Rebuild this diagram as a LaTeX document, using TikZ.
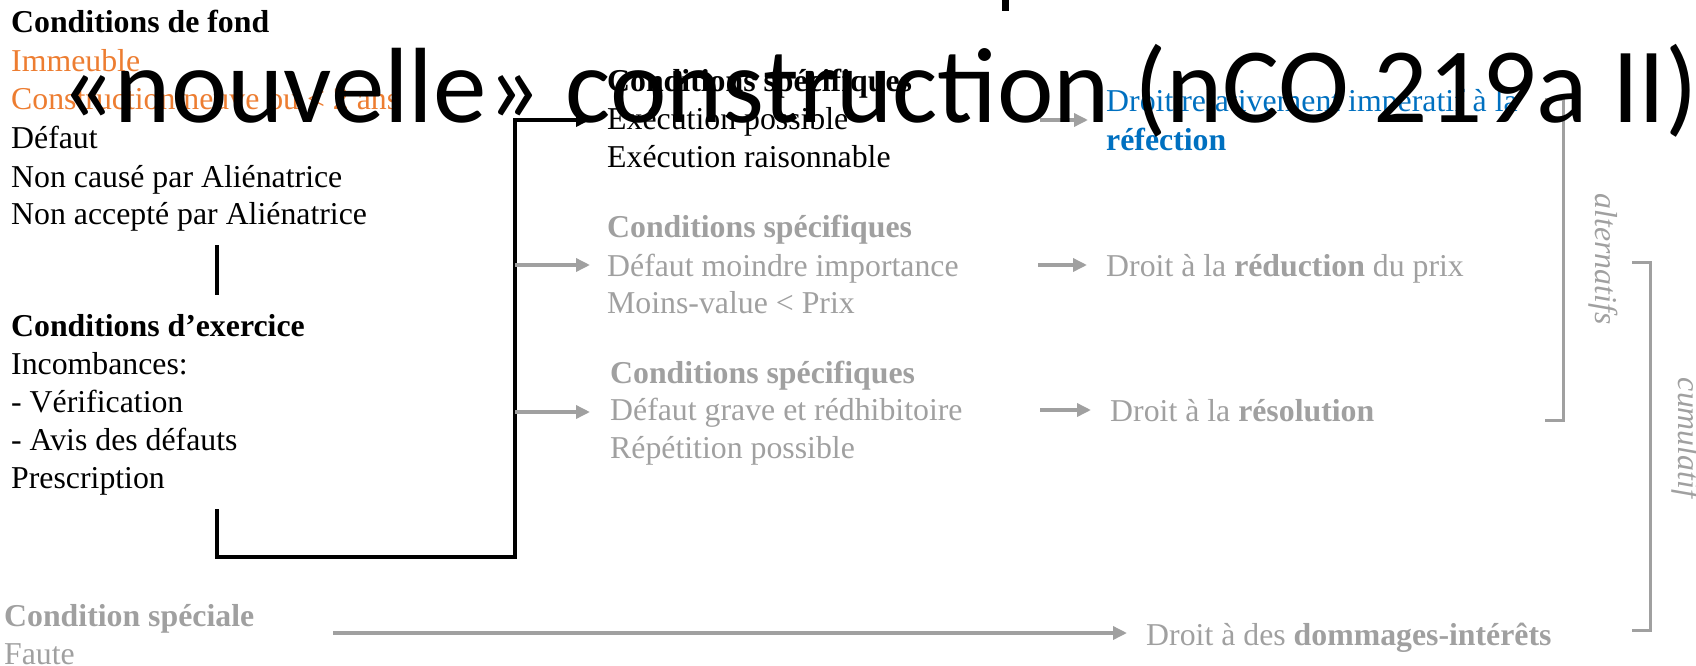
\documentclass[tikz,border=0pt]{standalone}
\usepackage{fontspec}
\setmainfont{Liberation Serif}
\newfontfamily\titlefont{Carlito}
\usetikzlibrary{arrows.meta}
\definecolor{orng}{HTML}{ED7D31}
\definecolor{blu}{HTML}{0070C0}
\definecolor{gry}{HTML}{A0A0A0}
\begin{document}
\begin{tikzpicture}[x=1pt,y=-1pt,
  txt/.style={anchor=base west,inner sep=0pt,font=\fontsize{31.8}{38}\selectfont},
  gtxt/.style={txt,text=gry},
  garrow/.style={draw=gry,line width=3.4pt,-{Triangle[length=14pt,width=13pt]}},
  bline/.style={draw=black,line width=3.6pt},
  barrow/.style={bline,-{Triangle[length=14pt,width=13pt]}},
  brack/.style={draw=gry,line width=3pt}]
\useasboundingbox (0,0) rectangle (1696,666);
% remnant of cut-off text at top
\fill[black] (1002,0) rectangle (1009,11);
% left block: conditions de fond
\node[txt,font=\fontsize{31.8}{38}\selectfont\bfseries] (f0) at (11,33) {Conditions de fond};
\node[txt,text=orng] (f1) at (11,72) {Immeuble};
\node[txt,text=orng] (f2) at (11,110) {Construction neuve ou < 2 ans};
\node[txt] (f3) at (11,148) {Défaut};
\node[txt] (f4) at (11,187) {Non causé par Aliénatrice};
\node[txt] (f5) at (11,224) {Non accepté par Aliénatrice};
% conditions d'exercice
\node[txt,font=\fontsize{31.8}{38}\selectfont\bfseries] (e0) at (11,336) {Conditions d’exercice};
\node[txt] (e1) at (11,374) {Incombances:};
\node[txt] (e2) at (11,412) {- Vérification};
\node[txt] (e3) at (11,450) {- Avis des défauts};
\node[txt] (e4) at (11,488) {Prescription};
% middle column
\node[txt,font=\fontsize{31.8}{38}\selectfont\bfseries] (a0) at (607,92) {Conditions spécifiques};
\node[txt] (a1) at (607,129) {Exécution possible};
\node[txt] (a2) at (607,167) {Exécution raisonnable};
\node[gtxt,font=\fontsize{31.8}{38}\selectfont\bfseries] (b0) at (607,237) {Conditions spécifiques};
\node[gtxt] (b1) at (607,276) {Défaut moindre importance};
\node[gtxt] (b2) at (607,313) {Moins-value < Prix};
\node[gtxt,font=\fontsize{31.8}{38}\selectfont\bfseries] (c0) at (610,383) {Conditions spécifiques};
\node[gtxt] (c1) at (610,420) {Défaut grave et rédhibitoire};
\node[gtxt] (c2) at (610,458) {Répétition possible};
% right column
\node[txt,text=blu] (r1) at (1106,112) {Droit relativement impératif à la};
\node[txt,text=blu,font=\fontsize{31.8}{38}\selectfont\bfseries] (r1b) at (1106,150) {réfection};
\node[gtxt] (r2) at (1106,276) {Droit à la \textbf{réduction} du prix};
\node[gtxt] (r3) at (1110,421) {Droit à la \textbf{résolution}};
\node[gtxt] (r4) at (1146,645) {Droit à des \textbf{dommages-intérêts}};
% bottom left
\node[gtxt,font=\fontsize{31.8}{38}\selectfont\bfseries] (s0) at (4,626) {Condition spéciale};
\node[gtxt] (s1) at (4,664) {Faute};
% rotated labels
\node[gtxt,anchor=center,rotate=-90,font=\fontsize{31.8}{38}\selectfont\itshape] (alt) at (1603,259) {alternatifs};
\node[gtxt,anchor=center,rotate=-90,font=\fontsize{31.8}{38}\selectfont\itshape] (cum) at (1686,438) {cumulatif};
% coordinates for connectors
\coordinate (v1) at (217,245);
\coordinate (v2) at (217,295);
\coordinate (p1) at (217,509);
\coordinate (p2) at (217,557);
\coordinate (p3) at (515,557);
\coordinate (p4) at (515,120);
\coordinate (t1) at (590,120);
\coordinate (q2) at (515,265);
\coordinate (t2) at (590,265);
\coordinate (q3) at (515,412);
\coordinate (t3) at (590,412);
\coordinate (g1) at (1040,120);
\coordinate (h1) at (1088,120);
\coordinate (g2) at (1038,265);
\coordinate (h2) at (1087,265);
\coordinate (g3) at (1040,410);
\coordinate (h3) at (1091,410);
\coordinate (g4) at (333,633);
\coordinate (h4) at (1127,633);
% black connectors
\draw[bline] (v1) -- (v2);
\draw[barrow] (p1) -- (p2) -- (p3) -- (p4) -- (t1);
% gray arrows
\draw[garrow] (q2) -- (t2);
\draw[garrow] (q3) -- (t3);
\draw[garrow] (g1) -- (h1);
\draw[garrow] (g2) -- (h2);
\draw[garrow] (g3) -- (h3);
\draw[garrow] (g4) -- (h4);
% brackets
\draw[brack] (1545,100) -- (1563,100) -- (1563,420) -- (1545,420);
\draw[brack] (1632,262) -- (1650,262) -- (1650,630) -- (1632,630);
% title overlay
\node[anchor=base west,inner sep=0pt,font=\titlefont\fontsize{107}{120}\selectfont] (title) at (60,122) {«nouvelle» construction (nCO 219a II)};
\end{tikzpicture}
\end{document}
